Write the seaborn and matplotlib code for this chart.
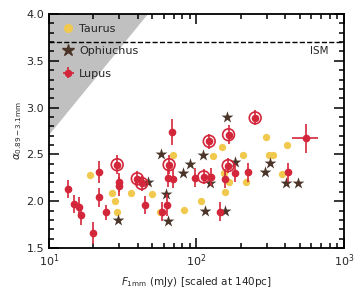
import numpy as np
import pandas as pd
import matplotlib
matplotlib.use("Agg")
import matplotlib.pyplot as plt
import seaborn as sns
from matplotlib.lines import Line2D
from matplotlib.ticker import MultipleLocator, LogLocator, NullFormatter

sns.set_theme(style="ticks")
plt.rcParams['font.family'] = ['DejaVu Sans']
plt.rcParams['mathtext.fontset'] = 'dejavusans'

# ---- data ----
taurus_F = [19.0, 26.8, 28.0, 28.8, 36.0, 50.1, 56.6, 69.3, 81.8, 107, 129, 150, 153,
            157, 165, 208, 218, 296, 312, 332, 378, 413]
taurus_a = [2.28, 2.09, 2.00, 1.89, 2.09, 2.08, 1.89, 2.49, 1.91, 2.00, 2.48, 2.58, 2.30,
            2.10, 2.20, 2.49, 2.20, 2.69, 2.49, 2.49, 2.29, 2.60]

oph_F = [29.5, 47.1, 57.4, 61.8, 64.4, 80.5, 90.3, 111, 114, 123, 155, 161, 182, 291,
         315, 404, 488]
oph_a = [1.80, 2.20, 2.50, 2.08, 1.79, 2.30, 2.40, 2.49, 1.90, 2.19, 1.90, 2.90, 2.42,
         2.31, 2.41, 2.19, 2.19]

lupus_F = [13.5, 14.8, 15.9, 16.6, 19.8, 21.8, 21.9, 24.2, 29.0, 30.0, 30.0, 39.7, 42.5,
           44.6, 58.6, 62.8, 64.4, 65.2, 68.5, 69.7, 98, 112, 122, 126, 145, 157, 164,
           165, 183, 222, 250, 419, 552]
lupus_a = [2.13, 1.97, 1.94, 1.85, 1.66, 2.31, 2.04, 1.88, 2.39, 2.20, 2.16, 2.24, 2.19,
           1.96, 1.89, 1.96, 2.25, 2.39, 2.74, 2.24, 2.25, 2.26, 2.64, 2.26, 1.89, 2.24,
           2.38, 2.71, 2.30, 2.31, 2.89, 2.31, 2.67]
lupus_aerr = [0.10, 0.10, 0.10, 0.10, 0.12, 0.12, 0.10, 0.08, 0.10, 0.10, 0.10, 0.08, 0.08,
              0.10, 0.10, 0.12, 0.10, 0.10, 0.14, 0.10, 0.10, 0.08, 0.08, 0.10, 0.10, 0.10,
              0.08, 0.10, 0.10, 0.10, 0.08, 0.10, 0.16]
lupus_Flo = [0]*32 + [110]
lupus_Fhi = [0]*32 + [115]
lupus_ring = [0, 0, 0, 0, 0, 0, 0, 0, 1, 0, 0, 1, 1, 0, 0, 0, 0, 1, 0, 0, 0, 1, 1, 0, 0, 0,
              1, 1, 0, 0, 1, 0, 0]

ism_level = 3.7
shade_F = [10, 10, 47]
shade_a = [2.71, 4.0, 4.0]

c_tau = "#F0C94E"
c_oph = "#4B3529"
c_lup = "#D3263A"

fig = plt.figure(figsize=(3.64, 2.95), dpi=100)
ax = fig.add_axes([0.1346, 0.1593, 0.8104, 0.7932])

ax.fill(shade_F, shade_a, color="#c0c0c0", lw=0, zorder=0)
ax.axhline(ism_level, color="black", ls="--", lw=1.0, zorder=1)
ax.text(790, ism_level - 0.04, "ISM", ha="right", va="top", fontsize=7.5)

tau = pd.DataFrame({"F": taurus_F, "a": taurus_a})
oph = pd.DataFrame({"F": oph_F, "a": oph_a})
lup = pd.DataFrame({"F": lupus_F, "a": lupus_a, "err": lupus_aerr,
                    "flo": lupus_Flo, "fhi": lupus_Fhi, "ring": lupus_ring})

sns.scatterplot(data=tau, x="F", y="a", ax=ax, color=c_tau, marker="o", s=28,
                linewidth=0, zorder=2, legend=False)
sns.scatterplot(data=oph, x="F", y="a", ax=ax, color=c_oph, marker="*", s=80,
                linewidth=0, zorder=3, legend=False)
ax.errorbar(lup["F"], lup["a"], yerr=lup["err"], xerr=[lup["flo"], lup["fhi"]],
            fmt="o", color=c_lup, ms=4.5, elinewidth=1.2, capsize=0, zorder=4)
rings = lup[lup["ring"] == 1]
sns.scatterplot(data=rings, x="F", y="a", ax=ax, marker="o", s=72,
                facecolors="none", edgecolor=c_lup, linewidth=1.2, zorder=5, legend=False)

ax.set_xscale("log")
ax.set_xlim(10, 1000)
ax.set_ylim(1.5, 4.0)
ax.yaxis.set_major_locator(MultipleLocator(0.5))
ax.yaxis.set_minor_locator(MultipleLocator(0.1))
ax.xaxis.set_minor_locator(LogLocator(base=10, subs=np.arange(2, 10)))
ax.xaxis.set_minor_formatter(NullFormatter())
ax.tick_params(which="both", direction="in", top=True, right=True, labelsize=8,
               color="black", width=1.1)
ax.tick_params(which="major", length=7)
ax.tick_params(which="minor", length=3.5)
for sp in ax.spines.values():
    sp.set_color("black")
    sp.set_linewidth(1.3)

ax.set_xlabel(r"$F_{1\mathrm{mm}}$ (mJy) [scaled at 140pc]", fontsize=7.5, labelpad=4)
ax.set_ylabel(r"$\alpha_{0.89-3.1\mathrm{mm}}$", fontsize=7.5, labelpad=2)

handles = [
    Line2D([], [], marker="o", color=c_tau, ls="none", ms=5.5),
    Line2D([], [], marker="*", color=c_oph, ls="none", ms=9),
]
h_lup = ax.errorbar([], [], xerr=[], yerr=[], fmt="o", color=c_lup, ms=4.5, elinewidth=1.2)
handles.append(h_lup)
ax.legend(handles, ["Taurus", "Ophiuchus", "Lupus"], loc="upper left", frameon=False,
          fontsize=8, handlelength=1.0, handletextpad=0.5, labelspacing=1.1,
          borderaxespad=0.3, bbox_to_anchor=(0.02, 0.99))

fig.savefig("out.png", dpi=100)
